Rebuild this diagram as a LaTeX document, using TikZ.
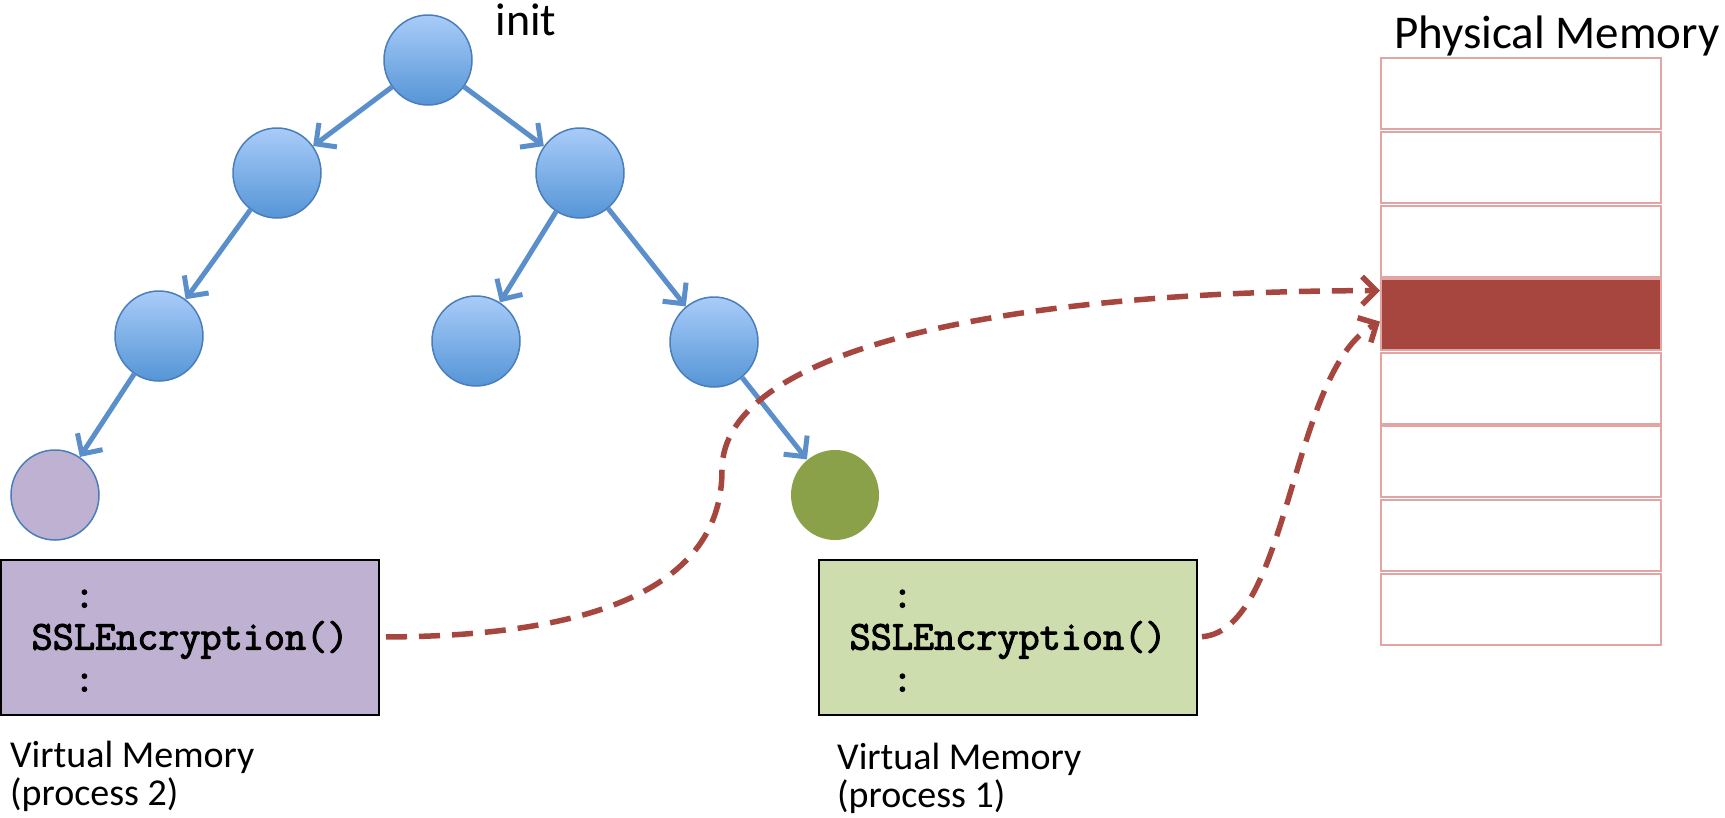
\documentclass[tikz,border=0pt]{standalone}
\usepackage{fontspec}
\setmainfont{Carlito}
\newfontfamily\codefont[FakeBold=2.5]{Latin Modern Mono}
\usetikzlibrary{shapes.geometric,arrows.meta}

\definecolor{proctop}{HTML}{A9CCF9}
\definecolor{procbot}{HTML}{5595D6}
\definecolor{procedge}{HTML}{4A7EBB}
\definecolor{treeline}{HTML}{5B8FCB}
\definecolor{lilac}{HTML}{BFB1D2}
\definecolor{sage}{HTML}{CEDDAD}
\definecolor{olive}{HTML}{8AA14A}
\definecolor{brick}{HTML}{A6463F}
\definecolor{memedge}{HTML}{E3A5A3}

\begin{document}
\begin{tikzpicture}[x=1pt,y=-1pt,
  leaf/.style={ellipse,draw=procedge,line width=1.5pt,minimum width=88pt,
    minimum height=90pt,inner sep=0pt},
  proc/.style={leaf,top color=proctop,bottom color=procbot},
  child/.style={draw=treeline,line width=5pt,-{Straight Barb[length=15pt,width=30pt]}},
  vmem/.style={draw=black,line width=2pt,minimum width=378pt,minimum height=155pt,
    align=left,font=\codefont\fontsize{41}{42}\selectfont},
  vlabel/.style={anchor=west,align=left,inner sep=0pt,font=\fontsize{38}{38}\selectfont},
  memrow/.style={draw=memedge,line width=2pt,minimum width=280pt,minimum height=71pt,inner sep=0pt},
  maps/.style={draw=brick,line width=5.5pt,dash pattern=on 21pt off 12pt,
    -{Straight Barb[length=14pt,width=28pt]}}]
  \useasboundingbox (0,0) rectangle (1725,817);

  % process tree
  \node[proc] (n0) at (428,60) {};
  \node[proc] (n1) at (277,173) {};
  \node[proc] (n2) at (580,173) {};
  \node[proc] (n3) at (159,336) {};
  \node[proc] (n4) at (476,341) {};
  \node[proc] (n5) at (714,342) {};
  \node[leaf,fill=lilac] (n6) at (55,495) {};
  \node[leaf,draw=none,fill=olive] (n7) at (835,495) {};
  \node[font=\fontsize{46}{46}\selectfont] (init) at (526,20) {init};
  \draw[child] (n0) -- (n1);
  \draw[child] (n0) -- (n2);
  \draw[child] (n1) -- (n3);
  \draw[child] (n2) -- (n4);
  \draw[child] (n2) -- (n5);
  \draw[child] (n3) -- (n6);
  \draw[child] (n5) -- (n7);

  % virtual memory of the two processes
  \node[vmem,fill=lilac] (p2) at (190,637) {\phantom{SS}:\\SSLEncryption()\\\phantom{SS}:};
  \node[vmem,fill=sage] (p1) at (1008,637) {\phantom{SS}:\\SSLEncryption()\\\phantom{SS}:};
  \node[vlabel] (p2lbl) at (10,776) {Virtual Memory\\(process 2)};
  \node[vlabel] (p1lbl) at (837,778) {Virtual Memory\\(process 1)};

  % physical memory
  \node[font=\fontsize{47}{47}\selectfont] (phys) at (1557,36) {Physical Memory};
  \foreach \i/\c in {1/white,2/white,3/white,4/brick,5/white,6/white,7/white,8/white}
    \node[memrow,fill=\c] (m\i) at (1521,{57+73.6*(\i-0.5)}) {};

  \coordinate (bend) at (722,470);
  \draw[maps,shorten <=6pt] (p2.east) .. controls (610,636) and (722,580) .. (bend)
    .. controls (722,350) and (1000,291) .. ([yshift=24pt]m4.west);
  \draw[maps,shorten <=4pt] (p1.east) .. controls (1290,630) and (1290,370) .. ([yshift=-7pt]m4.west);
\end{tikzpicture}
\end{document}
